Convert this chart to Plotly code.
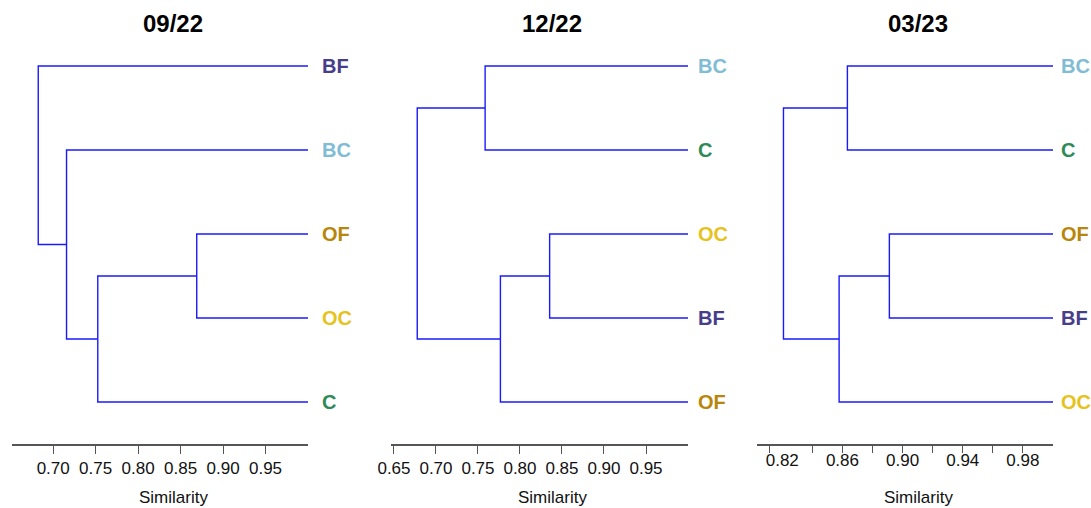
import plotly.graph_objects as go

# ---------------- data ----------------
titles = ["09/22", "12/22", "03/23"]

p1_order = ["BF", "BC", "OF", "OC", "C"]
p1_left = ["OF", "n1", "BC", "BF"]
p1_right = ["OC", "C", "n2", "n3"]
p1_height = [0.869, 0.7525, 0.7157, 0.6824]

p2_order = ["BC", "C", "OC", "BF", "OF"]
p2_left = ["BC", "OC", "n2", "n1"]
p2_right = ["C", "BF", "OF", "n3"]
p2_height = [0.7585, 0.8353, 0.7767, 0.6777]

p3_order = ["BC", "C", "OF", "BF", "OC"]
p3_left = ["BC", "OF", "n2", "n1"]
p3_right = ["C", "BF", "OC", "n3"]
p3_height = [0.8633, 0.8912, 0.8578, 0.8208]

leaf_similarity = 1.0

p1_ticks = [0.70, 0.75, 0.80, 0.85, 0.90, 0.95]
p2_ticks = [0.65, 0.70, 0.75, 0.80, 0.85, 0.90, 0.95]
p3_labels = [0.82, 0.86, 0.90, 0.94, 0.98]
p3_tickmarks = [0.8113, 0.84, 0.86, 0.88, 0.90, 0.92, 0.94, 0.96, 0.98]

group_colors = {"BF": "#483D8B", "BC": "#80BCD4", "OF": "#B8860B",
                "OC": "#E6C31C", "C": "#2E8B57"}

# ---------------- layout params (pixels) ----------------
W, H = 1091, 508
panels = [
    dict(order=p1_order, left=p1_left, right=p1_right, height=p1_height,
         x0=12, x1=308, rmin=0.6515, ticks=p1_ticks, fmt="%.2f", cx=173, lshift=12),
    dict(order=p2_order, left=p2_left, right=p2_right, height=p2_height,
         x0=390.7, x1=688, rmin=0.6461, ticks=p2_ticks, fmt="%.2f", cx=552, lshift=8),
    dict(order=p3_order, left=p3_left, right=p3_right, height=p3_height,
         x0=756.7, x1=1053, rmin=0.803, ticks=p3_labels, fmt="%.2f", cx=918, lshift=6),
]
y_top, y_bot = 24, 444
FONT = "Liberation Sans, Arial, sans-serif"
LINE_C = "#1a1aff"
AX_C = "#555555"

fig = go.Figure()
layout = dict(width=W, height=H, margin=dict(l=0, r=0, t=0, b=0, pad=0, autoexpand=False),
              paper_bgcolor="white", plot_bgcolor="white", showlegend=False,
              font=dict(family=FONT, color="black"))
annotations = []

for i, p in enumerate(panels):
    n = i + 1
    xa = "x" if n == 1 else f"x{n}"
    ya = "y" if n == 1 else f"y{n}"
    pos = {name: (leaf_similarity, k + 1) for k, name in enumerate(p["order"])}
    xs, ys = [], []
    for k, (a, b, h) in enumerate(zip(p["left"], p["right"], p["height"])):
        (ax_, ay_), (bx_, by_) = pos[a], pos[b]
        xs += [ax_, h, h, bx_, None]
        ys += [ay_, ay_, by_, by_, None]
        pos[f"n{k+1}"] = (h, (ay_ + by_) / 2)
    fig.add_trace(go.Scatter(x=xs, y=ys, mode="lines", xaxis=xa, yaxis=ya,
                             line=dict(color=LINE_C, width=1.4), hoverinfo="skip"))
    dom_x = [p["x0"] / W, p["x1"] / W]
    dom_y = [1 - y_bot / H, 1 - y_top / H]
    xkey = "xaxis" if n == 1 else f"xaxis{n}"
    ykey = "yaxis" if n == 1 else f"yaxis{n}"
    layout[xkey] = dict(domain=dom_x, range=[p["rmin"], 1.0], anchor=ya,
                        showline=True, linecolor=AX_C, linewidth=1.5, automargin=False,
                        ticks="outside" if n != 3 else "", ticklen=8, tickwidth=1.2,
                        tickcolor=AX_C, tickvals=p["ticks"],
                        ticktext=[p["fmt"] % v for v in p["ticks"]],
                        tickfont=dict(size=17, color="#111"), showgrid=False,
                        zeroline=False, fixedrange=True)
    layout[ykey] = dict(domain=dom_y, range=[5.5, 0.5], anchor=xa, visible=False,
                        automargin=False, showgrid=False, zeroline=False)
    for k, name in enumerate(p["order"]):
        annotations.append(dict(x=leaf_similarity, y=k + 1, xref=xa, yref=ya,
                                text=f"<b>{name}</b>", showarrow=False,
                                xanchor="left", yanchor="middle", xshift=p["lshift"],
                                font=dict(size=20, color=group_colors[name], family=FONT)))
    annotations.append(dict(x=p["cx"] / W, y=1 - 23 / H, xref="paper", yref="paper",
                            text=f"<b>{titles[i]}</b>", showarrow=False,
                            xanchor="center", yanchor="middle",
                            font=dict(size=24, color="black", family=FONT)))
    annotations.append(dict(x=p["cx"] / W, y=1 - 497 / H, xref="paper", yref="paper",
                            text="Similarity", showarrow=False,
                            xanchor="center", yanchor="middle",
                            font=dict(size=17, color="#111", family=FONT)))

# tick marks for third panel (unlabelled positions)
p3 = panels[2]
layout["xaxis4"] = dict(domain=[p3["x0"] / W, p3["x1"] / W], range=[p3["rmin"], 1.0],
                        overlaying="x3", anchor="y3", side="bottom", showline=False,
                        automargin=False,
                        ticks="outside", ticklen=8, tickwidth=1.2, tickcolor=AX_C,
                        tickvals=p3_tickmarks, showticklabels=False, showgrid=False,
                        zeroline=False, fixedrange=True)
fig.add_trace(go.Scatter(x=[None], y=[None], xaxis="x4", yaxis="y3", hoverinfo="skip"))

layout["annotations"] = annotations
fig.update_layout(**layout)
fig.write_html("out.html")
